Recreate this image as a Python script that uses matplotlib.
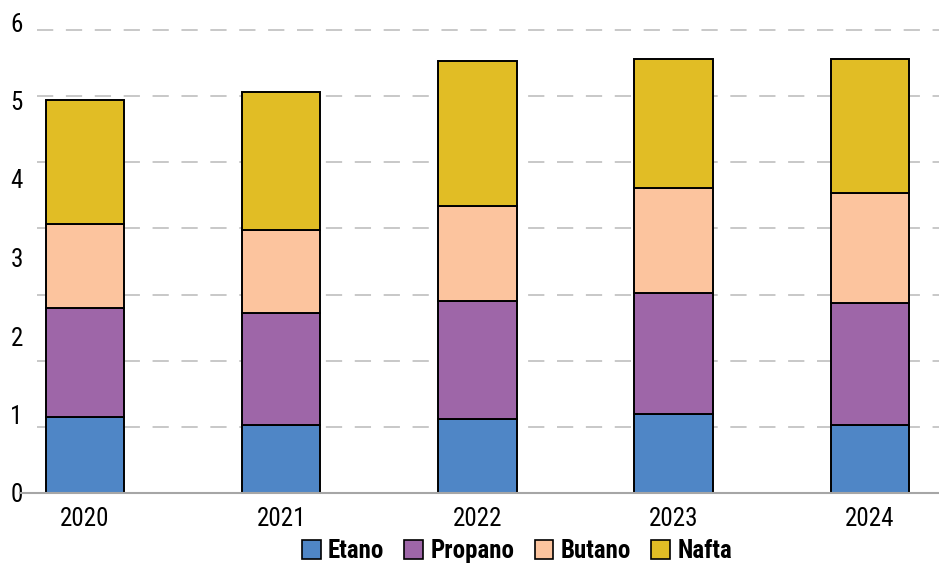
import numpy as np
import matplotlib
matplotlib.use("Agg")
from matplotlib import pyplot as plt
from matplotlib.patches import Patch

plt.rcParams["font.family"] = ["Roboto Condensed", "DejaVu Sans"]

years = ["2020", "2021", "2022", "2023", "2024"]
etano = [0.97, 0.87, 0.94, 1.01, 0.87]
propano = [1.39, 1.42, 1.51, 1.54, 1.55]
butano = [1.07, 1.06, 1.21, 1.34, 1.40]
nafta = [1.58, 1.76, 1.84, 1.64, 1.71]

series = [("Etano", etano, "#4f86c6"),
          ("Propano", propano, "#9e66a8"),
          ("Butano", butano, "#fcc49e"),
          ("Nafta", nafta, "#e1bd25")]

fig = plt.figure(figsize=(9.39, 5.67), dpi=100)
ax = fig.add_axes([20 / 939, 74 / 567, 919 / 939, 471 / 567])

x = np.arange(len(years))
bottom = np.zeros(len(years))
for name, vals, col in series:
    ax.bar(x, vals, width=0.4, bottom=bottom, color=col, edgecolor="black",
           linewidth=1.4, zorder=3, label=name)
    bottom += np.array(vals)

# dashed gridlines (7 equal steps up to 5.9)
grid_step = 5.9 / 7
for k in range(1, 8):
    ax.axhline(k * grid_step, xmin=0.0185, xmax=1, color="#c4c4c4",
               linewidth=1.3, dashes=(9, 7), zorder=0)

ax.set_xlim(-0.331, 4.352)
ax.set_ylim(0, 6)
ax.set_xticks(x)
ax.set_xticklabels(years, fontsize=18)
ax.set_yticks(range(0, 7))
ax.set_yticklabels([str(v) for v in range(0, 7)], fontsize=18)
ax.tick_params(axis="x", length=0, pad=10)
ax.tick_params(axis="y", length=0, pad=-2)

for s in ["top", "right", "left"]:
    ax.spines[s].set_visible(False)
ax.spines["bottom"].set_color("#a6a6a6")
ax.spines["bottom"].set_linewidth(1.5)
ax.spines["bottom"].set_zorder(4)

handles = [Patch(facecolor=c, edgecolor="black", linewidth=1.2, label=n)
           for n, v, c in series]
fig.legend(handles=handles, loc="center", bbox_to_anchor=(517 / 939, 1 - 551 / 567),
           ncol=4, frameon=False, handlelength=0.75, handleheight=0.8,
           handletextpad=0.3, columnspacing=0.8,
           prop={"size": 18, "weight": "bold"})

fig.savefig("out.png", dpi=100)
